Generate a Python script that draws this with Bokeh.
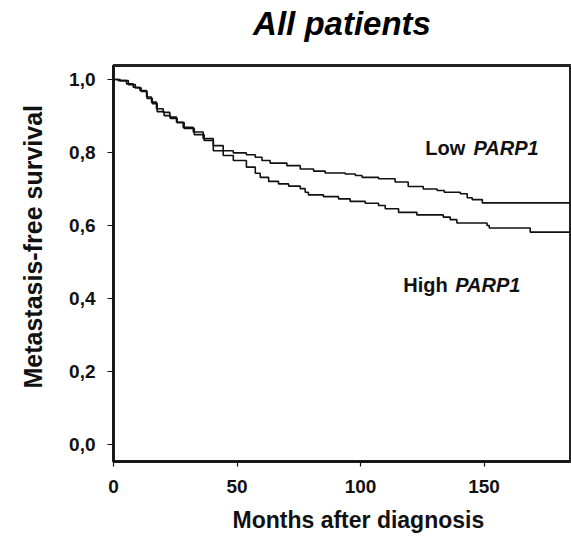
from bokeh.plotting import figure
from bokeh.models import Label, FixedTicker, Title, LinearAxis
from bokeh.embed import file_html
from bokeh.resources import INLINE

# ---- data ----
low_months = [0, 1.9, 5.3, 8.0, 10.7, 13.4, 15.4, 17.4, 20.1, 22.8, 25.5, 28.2, 32.3, 36.3,
              40.4, 44.4, 48.5, 53.8, 57.4, 60.1, 63.4, 70.2, 75.6, 81.0, 85.7, 93.8, 97.9,
              100.6, 107.3, 114.0, 119.3, 125.4, 131.0, 133.9, 140.4, 143.2, 145.2, 149.3, 185]
low_surv = [1.0, 0.997, 0.988, 0.979, 0.970, 0.952, 0.938, 0.920, 0.910, 0.897, 0.883, 0.869,
            0.856, 0.838, 0.819, 0.805, 0.799, 0.794, 0.787, 0.778, 0.771, 0.764, 0.755, 0.749,
            0.744, 0.741, 0.737, 0.732, 0.728, 0.719, 0.707, 0.700, 0.696, 0.691, 0.687, 0.676,
            0.671, 0.662, 0.662]

high_months = [0, 2.7, 6.0, 8.8, 11.2, 13.6, 15.7, 17.7, 20.5, 23.0, 25.8, 28.6, 32.7, 36.7,
               40.4, 44.4, 48.5, 53.8, 57.4, 59.4, 62.8, 66.8, 70.9, 75.6, 77.6, 78.9, 85.0,
               91.1, 95.8, 101.9, 107.3, 110.0, 115.4, 122.8, 133.5, 136.3, 139.0, 151.2, 152.1,
               168.7, 185]
high_surv = [1.0, 0.997, 0.986, 0.977, 0.967, 0.948, 0.934, 0.912, 0.901, 0.893, 0.882, 0.866,
             0.849, 0.833, 0.805, 0.792, 0.778, 0.760, 0.743, 0.732, 0.721, 0.714, 0.708, 0.701,
             0.691, 0.684, 0.679, 0.673, 0.666, 0.661, 0.655, 0.646, 0.636, 0.629, 0.623, 0.616,
             0.607, 0.600, 0.593, 0.582, 0.582]

x_ticks = [0, 50, 100, 150]
y_ticks = [0.0, 0.2, 0.4, 0.6, 0.8, 1.0]
y_tick_labels = ["0,0", "0,2", "0,4", "0,6", "0,8", "1,0"]

title_text = "All patients"
x_label = "Months after diagnosis"
y_label = "Metastasis-free survival"

FONT = "Liberation Sans"
INK = "#111111"

p = figure(width=571, height=542, x_range=(0, 185), y_range=(-0.0466, 1.0384),
           output_backend="svg", toolbar_location=None,
           min_border_left=113, min_border_right=1, min_border_top=65, min_border_bottom=81)

p.background_fill_color = "white"
p.border_fill_color = "white"
p.outline_line_color = "#222222"
p.outline_line_width = 3
p.grid.visible = False

# curves
p.step(low_months, low_surv, mode="after", line_color=INK, line_width=1.6)
p.step(high_months, high_surv, mode="after", line_color=INK, line_width=1.6)

# axes
for ax in (p.xaxis[0], p.yaxis[0]):
    ax.axis_line_color = INK
    ax.axis_line_width = 1.5
    ax.major_tick_line_color = INK
    ax.major_tick_line_width = 1.2
    ax.major_tick_in = 0
    ax.minor_tick_line_color = None
    ax.major_label_text_font = FONT
    ax.major_label_text_font_style = "bold"
    ax.major_label_text_font_size = "19px"
    ax.major_label_text_color = INK

p.xaxis.ticker = FixedTicker(ticks=x_ticks)
p.xaxis.major_tick_out = 5
p.xaxis.major_label_standoff = 13

p.yaxis.ticker = FixedTicker(ticks=y_ticks)
p.yaxis.major_label_overrides = {t: l for t, l in zip(y_ticks, y_tick_labels)}
p.yaxis.major_tick_out = 6
p.yaxis.major_label_standoff = 12

# chart title: label of a tickless axis above the frame
top_axis = LinearAxis(ticker=FixedTicker(ticks=[]), axis_label=title_text,
                      axis_line_color=None,
                      major_tick_out=0, major_tick_in=0, minor_tick_out=0, minor_tick_in=0,
                      major_label_standoff=0, axis_label_standoff=24,
                      axis_label_text_font=FONT, axis_label_text_font_style="bold italic",
                      axis_label_text_font_size="33px", axis_label_text_color="black")
p.add_layout(top_axis, "above")

# axis titles placed in the side panels
p.add_layout(Title(text=x_label, align="left", offset=119, vertical_align="bottom",
                   standoff=19, text_font=FONT, text_font_style="bold",
                   text_font_size="23px", text_color=INK), "below")
p.add_layout(Title(text=y_label, align="left", offset=73, vertical_align="top",
                   standoff=36, text_font=FONT, text_font_style="bold",
                   text_font_size="25px", text_color=INK), "left")

# curve annotations
def note(x, y, text, style):
    p.add_layout(Label(x=x, y=y, text=text, text_align="left", text_baseline="alphabetic",
                       text_font=FONT, text_font_style=style, text_font_size="20px",
                       text_color=INK))

note(126.2, 0.811, "Low", "bold")
note(145.7, 0.811, "PARP1", "bold italic")
note(117.3, 0.438, "High", "bold")
note(138.3, 0.438, "PARP1", "bold italic")

open("out.html", "w").write(file_html(p, INLINE))
